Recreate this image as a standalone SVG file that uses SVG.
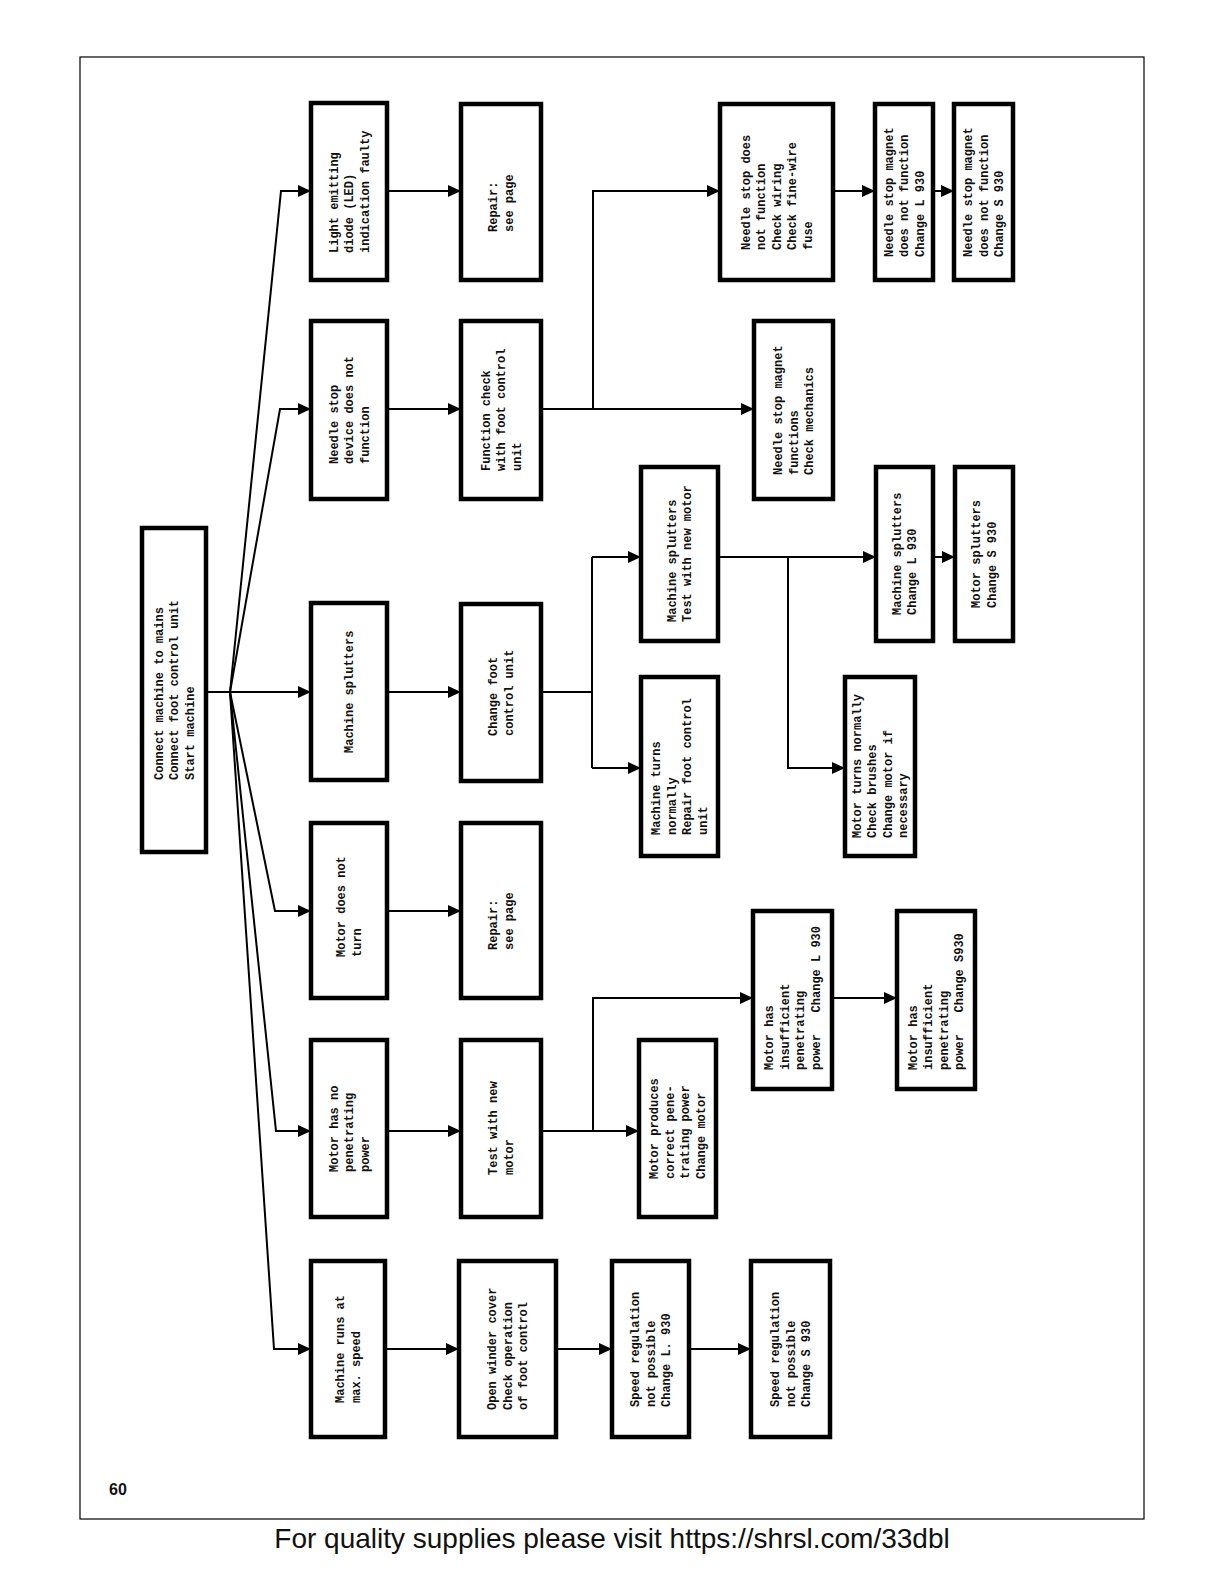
<svg xmlns="http://www.w3.org/2000/svg" width="1224" height="1584" viewBox="0 0 1224 1584">
<style>
.box{fill:#fff;stroke:#000;stroke-width:4.5}
.t{font-family:"Liberation Mono","DejaVu Sans Mono",monospace;font-size:12px;font-weight:bold;fill:#111}
.c{fill:none;stroke:#000;stroke-width:2}
</style>
<defs>
<marker id="ah" markerUnits="userSpaceOnUse" markerWidth="14" markerHeight="12" refX="12" refY="6" orient="auto">
<path d="M0,0 L13,6 L0,12 z" fill="#000"/>
</marker>
</defs>
<rect x="0" y="0" width="1224" height="1584" fill="#fff"/>
<rect x="80" y="57" width="1064" height="1462" fill="none" stroke="#000" stroke-width="1.2"/>

<g id="connectors">
<path class="c" d="M207 692 H310" marker-end="url(#ah)"/>
<path class="c" d="M230 692 L281 191 H310" marker-end="url(#ah)"/>
<path class="c" d="M230 692 L280 409 H310" marker-end="url(#ah)"/>
<path class="c" d="M230 692 L275 911 H310" marker-end="url(#ah)"/>
<path class="c" d="M230 692 L276 1131 H310" marker-end="url(#ah)"/>
<path class="c" d="M230 692 L274 1349 H310" marker-end="url(#ah)"/>
<path class="c" d="M387 191 H460" marker-end="url(#ah)"/>
<path class="c" d="M387 409 H460" marker-end="url(#ah)"/>
<path class="c" d="M387 692 H460" marker-end="url(#ah)"/>
<path class="c" d="M387 911 H460" marker-end="url(#ah)"/>
<path class="c" d="M387 1131 H460" marker-end="url(#ah)"/>
<path class="c" d="M385 1349 H458" marker-end="url(#ah)"/>
<path class="c" d="M541 409 H753" marker-end="url(#ah)"/>
<path class="c" d="M593 409 V191 H719" marker-end="url(#ah)"/>
<path class="c" d="M833 191 H874" marker-end="url(#ah)"/>
<path class="c" d="M933 191 H953" marker-end="url(#ah)"/>
<path class="c" d="M541 692 H592"/>
<path class="c" d="M592 557 V768"/>
<path class="c" d="M592 557 H640" marker-end="url(#ah)"/>
<path class="c" d="M592 768 H640" marker-end="url(#ah)"/>
<path class="c" d="M718 557 H875" marker-end="url(#ah)"/>
<path class="c" d="M788 557 V768 H844" marker-end="url(#ah)"/>
<path class="c" d="M933 557 H954" marker-end="url(#ah)"/>
<path class="c" d="M541 1131 H638" marker-end="url(#ah)"/>
<path class="c" d="M593 1131 V998 H752" marker-end="url(#ah)"/>
<path class="c" d="M832 998 H896" marker-end="url(#ah)"/>
<path class="c" d="M556 1349 H611" marker-end="url(#ah)"/>
<path class="c" d="M689 1349 H750" marker-end="url(#ah)"/>
</g>

<g id="n-root"><rect class="box" x="142" y="528" width="64" height="324"/>
<text class="t" transform="translate(162.5,780) rotate(-90)"><tspan x="0" y="0">Connect machine to mains</tspan><tspan x="0" y="15.5">Connect foot control unit</tspan><tspan x="0" y="31">Start machine</tspan></text></g>

<g id="n-led"><rect class="box" x="311" y="103" width="76" height="177"/>
<text class="t" transform="translate(337.5,253) rotate(-90)"><tspan x="0" y="0">Light emitting</tspan><tspan x="0" y="15.5">diode (LED)</tspan><tspan x="0" y="31">indication faulty</tspan></text></g>

<g id="n-repair1"><rect class="box" x="461" y="104" width="80" height="176"/>
<text class="t" transform="translate(497.25,232) rotate(-90)"><tspan x="0" y="0">Repair:</tspan><tspan x="0" y="15.5">see page</tspan></text></g>

<g id="n-needle-device"><rect class="box" x="311" y="321" width="76" height="178"/>
<text class="t" transform="translate(337.5,464) rotate(-90)"><tspan x="0" y="0">Needle stop</tspan><tspan x="0" y="15.5">device does not</tspan><tspan x="0" y="31">function</tspan></text></g>

<g id="n-function-check"><rect class="box" x="461" y="321" width="80" height="178"/>
<text class="t" transform="translate(489.5,471) rotate(-90)"><tspan x="0" y="0">Function check</tspan><tspan x="0" y="15.5">with foot control</tspan><tspan x="0" y="31">unit</tspan></text></g>

<g id="n-ns-not-function"><rect class="box" x="720" y="104" width="113" height="176"/>
<text class="t" transform="translate(749.5,250) rotate(-90)"><tspan x="0" y="0">Needle stop does</tspan><tspan x="0" y="15.5">not function</tspan><tspan x="0" y="31">Check wiring</tspan><tspan x="0" y="46.5">Check fine-wire</tspan><tspan x="0" y="62">fuse</tspan></text></g>

<g id="n-ns-magnet-l"><rect class="box" x="875" y="104" width="58" height="176"/>
<text class="t" transform="translate(892.5,257) rotate(-90)"><tspan x="0" y="0">Needle stop magnet</tspan><tspan x="0" y="15.5">does not function</tspan><tspan x="0" y="31">Change L 930</tspan></text></g>

<g id="n-ns-magnet-s"><rect class="box" x="954" y="104" width="59" height="176"/>
<text class="t" transform="translate(972,257) rotate(-90)"><tspan x="0" y="0">Needle stop magnet</tspan><tspan x="0" y="15.5">does not function</tspan><tspan x="0" y="31">Change S 930</tspan></text></g>

<g id="n-ns-magnet-functions"><rect class="box" x="754" y="321" width="79" height="178"/>
<text class="t" transform="translate(782,475) rotate(-90)"><tspan x="0" y="0">Needle stop magnet</tspan><tspan x="0" y="15.5">functions</tspan><tspan x="0" y="31">Check mechanics</tspan></text></g>

<g id="n-machine-splutters"><rect class="box" x="311" y="603" width="76" height="177"/>
<text class="t" transform="translate(353,753) rotate(-90)"><tspan x="0" y="0">Machine splutters</tspan></text></g>

<g id="n-change-foot"><rect class="box" x="461" y="604" width="80" height="177"/>
<text class="t" transform="translate(497.25,736) rotate(-90)"><tspan x="0" y="0">Change foot</tspan><tspan x="0" y="15.5">control unit</tspan></text></g>

<g id="n-ms-test-motor"><rect class="box" x="641" y="467" width="77" height="174"/>
<text class="t" transform="translate(675.75,622) rotate(-90)"><tspan x="0" y="0">Machine splutters</tspan><tspan x="0" y="15.5">Test with new motor</tspan></text></g>

<g id="n-machine-turns"><rect class="box" x="641" y="677" width="77" height="179"/>
<text class="t" transform="translate(660.25,835) rotate(-90)"><tspan x="0" y="0">Machine turns</tspan><tspan x="0" y="15.5">normally</tspan><tspan x="0" y="31">Repair foot control</tspan><tspan x="0" y="46.5">unit</tspan></text></g>

<g id="n-ms-change-l"><rect class="box" x="876" y="467" width="57" height="174"/>
<text class="t" transform="translate(900.75,615) rotate(-90)"><tspan x="0" y="0">Machine splutters</tspan><tspan x="0" y="15.5">Change L 930</tspan></text></g>

<g id="n-motor-splutters"><rect class="box" x="955" y="467" width="58" height="174"/>
<text class="t" transform="translate(980.25,608) rotate(-90)"><tspan x="0" y="0">Motor splutters</tspan><tspan x="0" y="15.5">Change S 930</tspan></text></g>

<g id="n-motor-turns"><rect class="box" x="845" y="677" width="70" height="179"/>
<text class="t" transform="translate(860.75,838) rotate(-90)"><tspan x="0" y="0">Motor turns normally</tspan><tspan x="0" y="15.5">Check brushes</tspan><tspan x="0" y="31">Change motor if</tspan><tspan x="0" y="46.5">necessary</tspan></text></g>

<g id="n-motor-not-turn"><rect class="box" x="311" y="823" width="76" height="175"/>
<text class="t" transform="translate(345.25,957) rotate(-90)"><tspan x="0" y="0">Motor does not</tspan><tspan x="0" y="15.5">turn</tspan></text></g>

<g id="n-repair2"><rect class="box" x="461" y="823" width="80" height="175"/>
<text class="t" transform="translate(497.25,950) rotate(-90)"><tspan x="0" y="0">Repair:</tspan><tspan x="0" y="15.5">see page</tspan></text></g>

<g id="n-motor-no-power"><rect class="box" x="311" y="1040" width="76" height="177"/>
<text class="t" transform="translate(337.5,1172) rotate(-90)"><tspan x="0" y="0">Motor has no</tspan><tspan x="0" y="15.5">penetrating</tspan><tspan x="0" y="31">power</tspan></text></g>

<g id="n-test-new-motor"><rect class="box" x="461" y="1040" width="80" height="177"/>
<text class="t" transform="translate(497.25,1175) rotate(-90)"><tspan x="0" y="0">Test with new</tspan><tspan x="0" y="15.5">motor</tspan></text></g>

<g id="n-motor-produces"><rect class="box" x="639" y="1040" width="77" height="177"/>
<text class="t" transform="translate(658.25,1179) rotate(-90)"><tspan x="0" y="0">Motor produces</tspan><tspan x="0" y="15.5">correct pene-</tspan><tspan x="0" y="31">trating power</tspan><tspan x="0" y="46.5">Change motor</tspan></text></g>

<g id="n-insufficient-l"><rect class="box" x="753" y="911" width="79" height="178"/>
<text class="t" transform="translate(773.25,1070) rotate(-90)"><tspan x="0" y="0">Motor has</tspan><tspan x="0" y="15.5">insufficient</tspan><tspan x="0" y="31">penetrating</tspan><tspan x="0" y="46.5">power&#160;&#160;&#160;Change L 930</tspan></text></g>

<g id="n-insufficient-s"><rect class="box" x="897" y="911" width="78" height="178"/>
<text class="t" transform="translate(916.75,1070) rotate(-90)"><tspan x="0" y="0">Motor has</tspan><tspan x="0" y="15.5">insufficient</tspan><tspan x="0" y="31">penetrating</tspan><tspan x="0" y="46.5">power&#160;&#160;&#160;Change S930</tspan></text></g>

<g id="n-max-speed"><rect class="box" x="311" y="1261" width="74" height="176"/>
<text class="t" transform="translate(344.25,1403) rotate(-90)"><tspan x="0" y="0">Machine runs at</tspan><tspan x="0" y="15.5">max. speed</tspan></text></g>

<g id="n-open-winder"><rect class="box" x="459" y="1261" width="97" height="176"/>
<text class="t" transform="translate(496,1410) rotate(-90)"><tspan x="0" y="0">Open winder cover</tspan><tspan x="0" y="15.5">Check operation</tspan><tspan x="0" y="31">of foot control</tspan></text></g>

<g id="n-speed-l"><rect class="box" x="612" y="1261" width="77" height="176"/>
<text class="t" transform="translate(639,1407) rotate(-90)"><tspan x="0" y="0">Speed regulation</tspan><tspan x="0" y="15.5">not possible</tspan><tspan x="0" y="31">Change L. 930</tspan></text></g>

<g id="n-speed-s"><rect class="box" x="751" y="1261" width="79" height="176"/>
<text class="t" transform="translate(779,1407) rotate(-90)"><tspan x="0" y="0">Speed regulation</tspan><tspan x="0" y="15.5">not possible</tspan><tspan x="0" y="31">Change S 930</tspan></text></g>

<text x="109" y="1495" font-family="Liberation Sans, Arial, sans-serif" font-size="16" font-weight="bold" fill="#111">60</text>
<text x="612" y="1548" text-anchor="middle" font-family="Liberation Sans, Arial, sans-serif" font-size="28" fill="#111">For quality supplies please visit https://shrsl.com/33dbl</text>
</svg>
